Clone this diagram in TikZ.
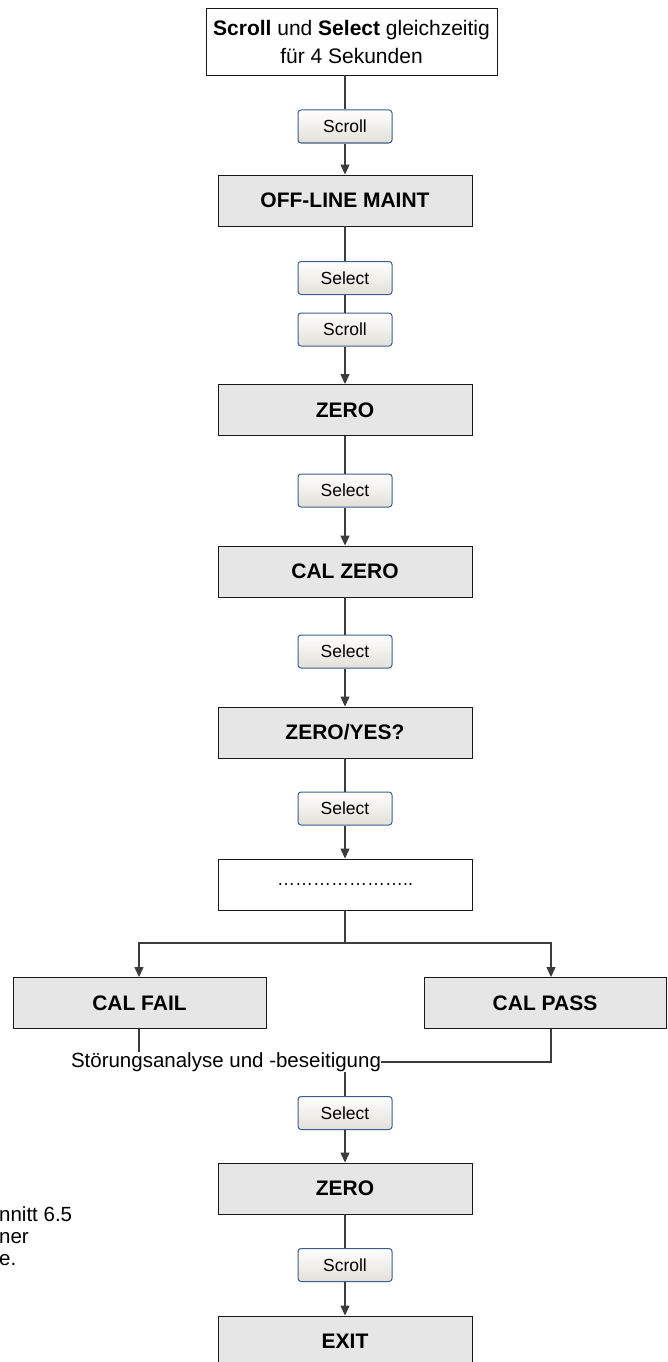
\documentclass[tikz,border=0pt]{standalone}
\usepackage{fontspec}
\setmainfont{Liberation Sans}
\usetikzlibrary{arrows.meta}
\definecolor{btnedge}{RGB}{62,92,140}
\definecolor{btnbase}{RGB}{226,224,215}
\definecolor{boxfill}{RGB}{230,230,230}
\definecolor{linegray}{RGB}{60,60,60}
\begin{document}
\begin{tikzpicture}[x=1pt,y=-1pt,
  stepbox/.style={draw=black!90, line width=0.9pt, fill=boxfill,
    minimum width=254pt, minimum height=51pt, inner sep=0pt,
    font=\fontsize{21}{24}\selectfont\bfseries},
  plainbox/.style={draw=black!90, line width=0.9pt, fill=white,
    minimum width=254pt, minimum height=51pt, inner sep=0pt},
  keybtn/.style={draw=btnedge, line width=1pt, rounded corners=3pt,
    top color=white, bottom color=btnbase,
    minimum width=94pt, minimum height=33pt, inner sep=0pt,
    font=\fontsize{17.5}{20}\selectfont},
  link/.style={draw=linegray, line width=1.2pt},
  flow/.style={link, -{Triangle[length=10pt,width=9pt]}},
  note/.style={inner sep=0pt, font=\fontsize{20.5}{22}\selectfont},
]
\useasboundingbox (0,0) rectangle (667,1362);

% start box
\node[draw=black!90, line width=0.9pt, fill=white, minimum width=291pt,
  minimum height=67pt, inner sep=0pt, align=center,
  font=\fontsize{21}{28}\selectfont] (start) at (351.5,41.5)
  {\textbf{Scroll} und \textbf{Select} gleichzeitig\\für 4 Sekunden};

% main column
\node[keybtn]   (k1)    at (345,126.5) {Scroll};
\node[stepbox]  (offl)  at (345,200.5) {OFF-LINE MAINT};
\node[keybtn]   (k2)    at (345,278)   {Select};
\node[keybtn]   (k3)    at (345,329.5) {Scroll};
\node[stepbox]  (zero)  at (345,410)   {ZERO};
\node[keybtn]   (k4)    at (345,490.5) {Select};
\node[stepbox]  (calz)  at (345,571.5) {CAL ZERO};
\node[keybtn]   (k5)    at (345,651.5) {Select};
\node[stepbox]  (yes)   at (345,732.5) {ZERO/YES?};
\node[keybtn]   (k6)    at (345,808.5) {Select};
\node[plainbox] (dots)  at (345,884.5) {\fontsize{18}{20}\selectfont …………………..};

% branches
\coordinate (fl) at (139,943);
\coordinate (pl) at (551,943);
\node[stepbox, minimum width=253pt] (fail) at (139.5,1003) {CAL FAIL};
\node[stepbox, minimum width=242pt] (pass) at (545,1003)   {CAL PASS};
\node[note] (diag) at (226,1062) {Störungsanalyse und -beseitigung};

\node[keybtn]   (k7)    at (345,1113)  {Select};
\node[stepbox]  (zero2) at (345,1188.5){ZERO};
\node[keybtn]   (k8)    at (345,1265)  {Scroll};
\node[stepbox]  (exit)  at (345,1341.5){EXIT};

\node[note, anchor=north west, align=left] (ref) at (-1,1206)
  {nnitt 6.5\\ner\\e.};

% connectors
\draw[link] (start.south -| k1) -- (k1);
\draw[flow] (k1) -- (offl);
\draw[link] (offl) -- (k2);
\draw[link] (k2) -- (k3);
\draw[flow] (k3) -- (zero);
\draw[link] (zero) -- (k4);
\draw[flow] (k4) -- (calz);
\draw[link] (calz) -- (k5);
\draw[flow] (k5) -- (yes);
\draw[link] (yes) -- (k6);
\draw[flow] (k6) -- (dots);
\draw[link] (dots.south) -- (dots.south |- fl);
\draw[flow] (dots.south |- fl) -| (fl |- fail.north);
\draw[flow] (dots.south |- pl) -| (pl |- pass.north);
\draw[link] (fl |- fail.south) -- (fl |- diag.north);
\draw[link] (pl |- pass.south) |- (diag.east);
\draw[link] (diag.south -| k7) -- (k7);
\draw[flow] (k7) -- (zero2);
\draw[link] (zero2) -- (k8);
\draw[flow] (k8) -- (exit);
\end{tikzpicture}
\end{document}
